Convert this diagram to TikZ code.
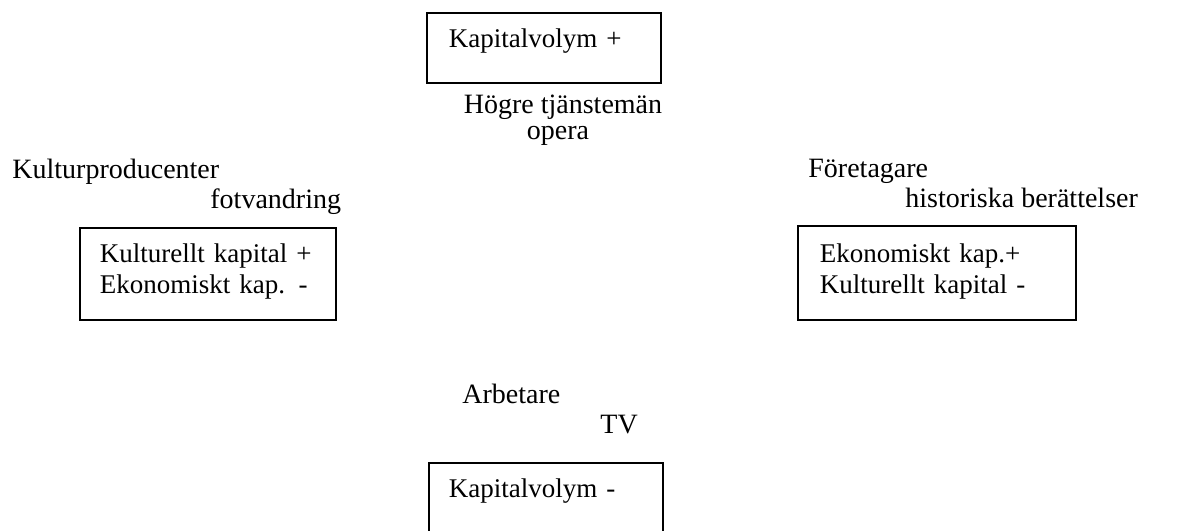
\documentclass[tikz,border=0pt]{standalone}
\usepackage{fontspec}
\setmainfont{Liberation Serif}
\usepackage{tikz}
\usetikzlibrary{positioning}

\begin{document}
\begin{tikzpicture}[x=0.5pt,y=-0.5pt]
	\clip (0,0) rectangle (1199,530);

	\begin{scope}[every node/.style={draw,line width=0.8pt,anchor=north west,align=left,
	                inner ysep=0pt,font=\fontsize{13.5}{15.5}\selectfont}]
	    \node[inner xsep=11pt,text width=95pt,text height=17.5pt,text depth=17.5pt] (KP) at (426,12) {Kapitalvolym +};
	    \node[inner xsep=10pt,text width=108pt,text height=17.5pt,text depth=28.5pt] (KK) at (79,227) {Kulturellt kapital +\\Ekonomiskt kap. -};
	    \node[inner xsep=11pt,text width=117pt,text height=18.5pt,text depth=28.5pt] (EK) at (797,225) {Ekonomiskt kap.+\\Kulturellt kapital -};
	    \node[inner xsep=10pt,text width=97pt,text height=17.5pt,text depth=40pt] (KM) at (428,462) {Kapitalvolym -};
	\end{scope}

	\begin{scope}[every node/.style={anchor=base west,inner sep=0pt,font=\fontsize{14}{13}\selectfont}]
	    \node[anchor=base] (hogre) at (563,113) {Högre tjänstemän};
	    \node[anchor=base] (opera) at (558,139) {opera};
	    \node (kultur) at (12,178) {Kulturproducenter};
	    \node (fot) at (210,208) {fotvandring};
	    \node (foret) at (808,177) {Företagare};
	    \node (hist) at (905,207) {historiska berättelser};
	    \node (arb) at (462,403) {Arbetare};
	    \node (tv) at (600,433) {TV};
	\end{scope}
\end{tikzpicture}
\end{document}
